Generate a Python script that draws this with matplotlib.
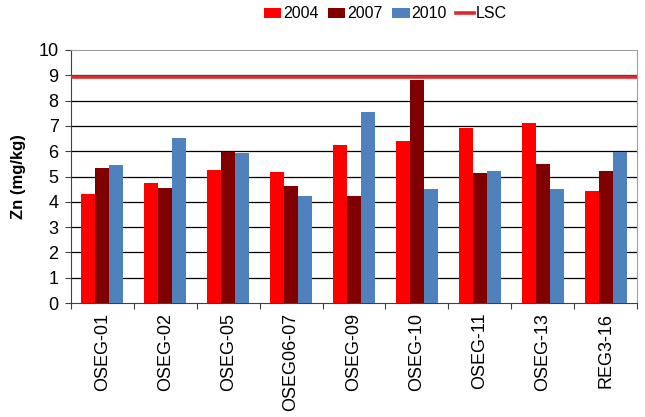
import matplotlib
matplotlib.use("Agg")
import matplotlib.pyplot as plt
import numpy as np

plt.rcParams['font.family'] = ['Liberation Sans', 'DejaVu Sans']

categories = ["OSEG-01", "OSEG-02", "OSEG-05", "OSEG06-07", "OSEG-09",
              "OSEG-10", "OSEG-11", "OSEG-13", "REG3-16"]
v2004 = [4.32, 4.75, 5.25, 5.18, 6.24, 6.42, 6.92, 7.11, 4.43]
v2007 = [5.34, 4.53, 5.97, 4.63, 4.24, 8.80, 5.13, 5.50, 5.20]
v2010 = [5.46, 6.51, 5.93, 4.24, 7.55, 4.51, 5.22, 4.51, 5.95]
lsc = 8.92

fig = plt.figure(figsize=(6.45, 4.17), dpi=100)
ax = fig.add_axes([71/645, 1-303/417, (637-71)/645, (303-50)/417])

x = np.arange(len(categories))
w = 0.223
b1 = ax.bar(x - w, v2004, w, color='#FF0000', label='2004', zorder=3)
b2 = ax.bar(x, v2007, w, color='#800000', label='2007', zorder=3)
b3 = ax.bar(x + w, v2010, w, color='#4F81BD', label='2010', zorder=3)
l1 = ax.axhline(lsc, color='#E0282C', lw=2.6, label='LSC', zorder=4)

ax.set_xlim(-0.5, len(categories) - 0.5)
ax.set_ylim(0, 10)
ax.set_yticks(range(0, 11))
for yv in range(1, 10):
    ax.axhline(yv, color='black', lw=0.9, zorder=1)

ax.set_xticks(np.arange(-0.5, len(categories), 1.0))
ax.set_xticklabels([])
ax.set_xticks(x, minor=True)
ax.set_xticklabels(categories, minor=True, rotation=90, fontsize=13)
ax.tick_params(axis='x', which='minor', length=0, pad=7)
ax.tick_params(axis='x', which='major', length=4, direction='out', color='#404040')
ax.tick_params(axis='y', length=4, direction='out', labelsize=13, color='#404040', pad=5)

for s in ['top', 'right']:
    ax.spines[s].set_color('#A0A0A0')
for s in ['left', 'bottom']:
    ax.spines[s].set_color('#404040')

ax.set_ylabel('Zn (mg/kg)', fontsize=12, fontweight='bold', labelpad=9)

fig.legend([b1, b2, b3, l1], ['2004', '2007', '2010', 'LSC'],
           loc='center', bbox_to_anchor=(385/645, 1-14/417), ncol=4, frameon=False,
           fontsize=11.5, handlelength=1.1, handletextpad=0.1, columnspacing=0.6,
           handleheight=0.6)

fig.savefig('out.png', dpi=100)
